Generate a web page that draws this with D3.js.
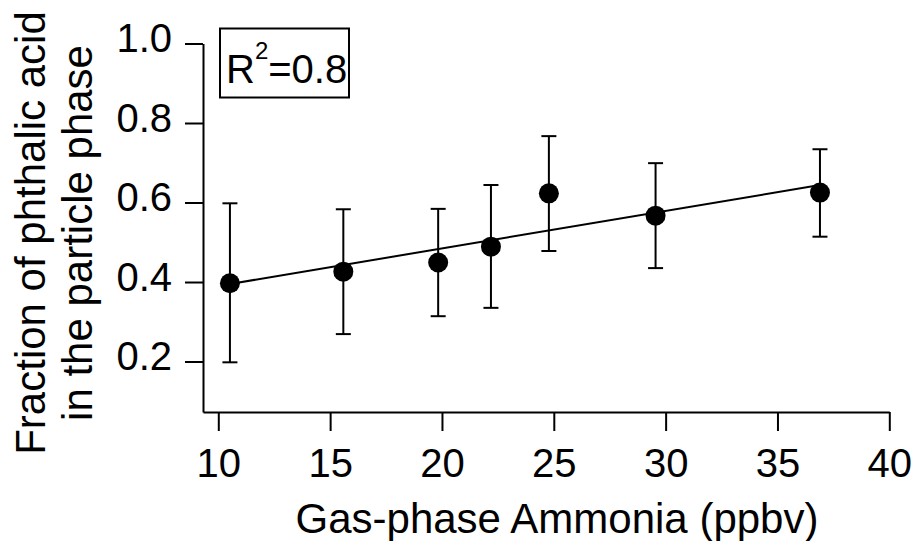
<!DOCTYPE html>
<html>
<head>
<meta charset="utf-8">
<script src="https://cdn.jsdelivr.net/npm/d3@7"></script>
<style>
  html, body { margin: 0; padding: 0; background: #fff; }
  svg { display: block; }
  text { font-family: "Liberation Sans", Arial, Helvetica, sans-serif; fill: #000; }
</style>
</head>
<body>
<svg id="chart" width="917" height="541"></svg>
<script>
// ---- data ----
const ammonia   = [10.52, 15.59, 19.83, 22.19, 24.78, 29.55, 36.90];
const fraction  = [0.397, 0.426, 0.449, 0.489, 0.623, 0.567, 0.625];
const errLow    = [0.198, 0.269, 0.314, 0.335, 0.478, 0.435, 0.514];
const errHigh   = [0.598, 0.583, 0.584, 0.644, 0.767, 0.699, 0.734];
const fitX      = [10.52, 36.90];
const fitY      = [0.395, 0.644];
const xTicks    = [10, 15, 20, 25, 30, 35, 40];
const yTicks    = [0.2, 0.4, 0.6, 0.8, 1.0];
const xTitle    = "Gas-phase Ammonia (ppbv)";
const yTitle1   = "Fraction of phthalic acid";
const yTitle2   = "in the particle phase";
const rSquared  = "0.8";

const svg = d3.select("#chart");

const x = d3.scaleLinear().domain([9.316, 40]).range([203, 889.3]);
const y = d3.scaleLinear().domain([0.073, 1.0]).range([412, 43.5]);

// axes
const xAxis = d3.axisBottom(x).tickValues(xTicks).tickFormat(d3.format("d"))
  .tickSizeInner(19).tickSizeOuter(0).tickPadding(18);
const yAxis = d3.axisLeft(y).tickValues(yTicks).tickFormat(d3.format(".1f"))
  .tickSizeInner(18).tickSizeOuter(0).tickPadding(13);

const gx = svg.append("g").attr("transform", "translate(0,412)").call(xAxis);
const gy = svg.append("g").attr("transform", "translate(203,0)").call(yAxis);

[gx, gy].forEach(g => {
  g.selectAll("path.domain").attr("stroke", "#000").attr("stroke-width", 2);
  g.selectAll(".tick line").attr("stroke", "#000").attr("stroke-width", 2);
  g.selectAll(".tick text").attr("font-size", 40)
    .attr("font-family", "'Liberation Sans', Arial, sans-serif").attr("fill", "#000");
});
gy.selectAll(".tick text").attr("dy", "0.2em");

// titles
svg.append("text")
  .attr("x", 557).attr("y", 533)
  .attr("text-anchor", "middle")
  .attr("font-size", 42)
  .text(xTitle);

const yt = svg.append("g").attr("transform", "translate(45,233) rotate(-90)");
yt.append("text").attr("x", 0).attr("y", 0).attr("text-anchor", "middle")
  .attr("font-size", 42).text(yTitle1);
yt.append("text").attr("x", 0).attr("y", 47).attr("text-anchor", "middle")
  .attr("font-size", 42).text(yTitle2);

// fit line
svg.append("path")
  .datum(fitX.map((d, i) => [d, fitY[i]]))
  .attr("fill", "none").attr("stroke", "#000").attr("stroke-width", 2)
  .attr("d", d3.line().x(d => x(d[0])).y(d => y(d[1])));

// error bars
const pts = ammonia.map((d, i) => ({ x: d, y: fraction[i], lo: errLow[i], hi: errHigh[i] }));
const eb = svg.append("g").attr("stroke", "#000").attr("stroke-width", 2);
eb.selectAll("line.v").data(pts).join("line").attr("class", "v")
  .attr("x1", d => x(d.x)).attr("x2", d => x(d.x))
  .attr("y1", d => y(d.lo)).attr("y2", d => y(d.hi));
eb.selectAll("line.cl").data(pts).join("line").attr("class", "cl")
  .attr("x1", d => x(d.x) - 7.5).attr("x2", d => x(d.x) + 7.5)
  .attr("y1", d => y(d.lo)).attr("y2", d => y(d.lo));
eb.selectAll("line.ch").data(pts).join("line").attr("class", "ch")
  .attr("x1", d => x(d.x) - 7.5).attr("x2", d => x(d.x) + 7.5)
  .attr("y1", d => y(d.hi)).attr("y2", d => y(d.hi));

// markers
svg.append("g").selectAll("circle").data(pts).join("circle")
  .attr("cx", d => x(d.x)).attr("cy", d => y(d.y)).attr("r", 10).attr("fill", "#000");

// R^2 box
svg.append("rect").attr("x", 220).attr("y", 28.5).attr("width", 129).attr("height", 69)
  .attr("fill", "#fff").attr("stroke", "#000").attr("stroke-width", 2);
const rt = svg.append("text").attr("x", 226).attr("y", 83).attr("font-size", 40);
rt.append("tspan").text("R");
rt.append("tspan").attr("font-size", 24).attr("dy", -24).text("2");
rt.append("tspan").attr("dy", 24).text("=" + rSquared);
</script>
</body>
</html>
